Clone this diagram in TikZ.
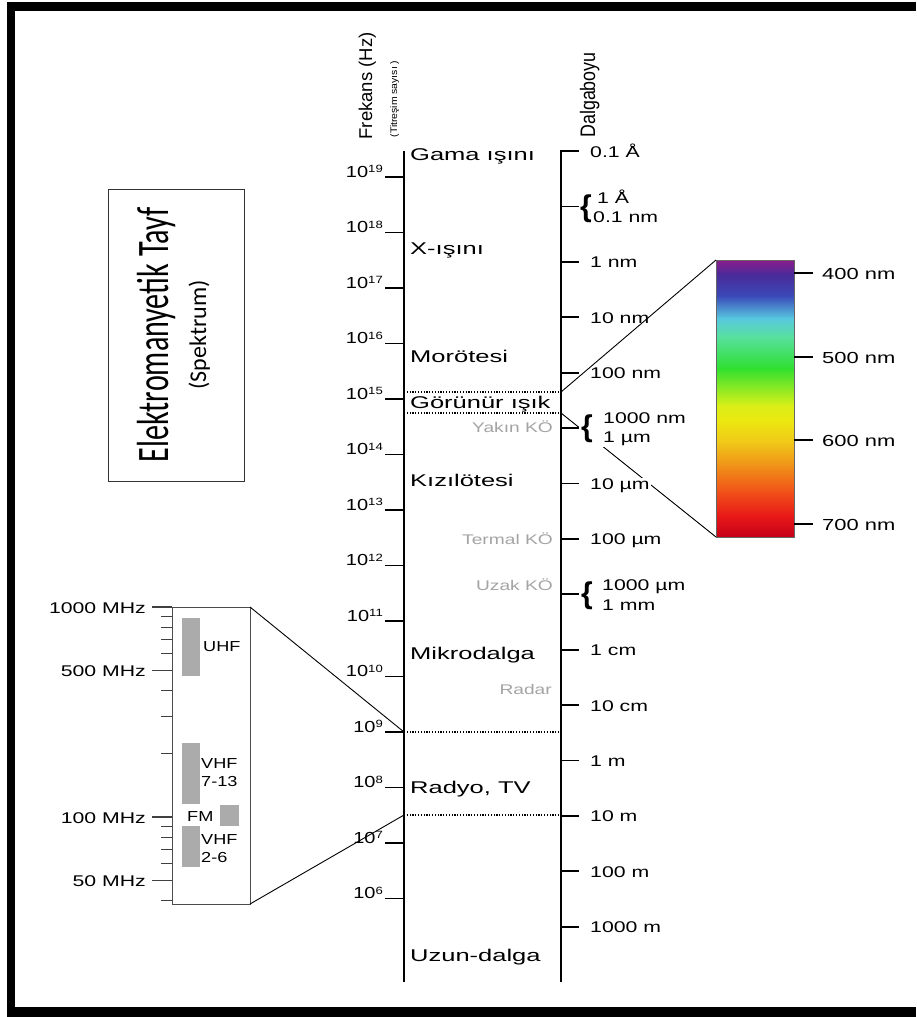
\documentclass[tikz,border=0pt]{standalone}
\usepackage{fontspec}
\setmainfont{Liberation Sans}
\newfontfamily\fCat[FakeStretch=1.5]{Liberation Sans}
\newfontfamily\fLab[FakeStretch=1.37]{Liberation Sans}
\newfontfamily\fPow[FakeStretch=1.25]{Liberation Sans}
\newfontfamily\fHead{Liberation Sans}
\newfontfamily\fDal[FakeStretch=0.85]{Liberation Sans}
\newfontfamily\fTit[FakeStretch=1.1]{Liberation Sans}
\newfontfamily\fBig[FakeStretch=0.67]{Carlito}
\newfontfamily\fSpk{Carlito}
\definecolor{gtxt}{HTML}{A4A4A4}
\definecolor{barg}{HTML}{ABABAB}
\definecolor{s0}{HTML}{8C1C8C}
\definecolor{s1}{HTML}{4A2A98}
\definecolor{s2}{HTML}{3A4AB8}
\definecolor{s3}{HTML}{58C8E0}
\definecolor{s4}{HTML}{58E0A0}
\definecolor{s5}{HTML}{30E030}
\definecolor{s6}{HTML}{D8F018}
\definecolor{s7}{HTML}{ECE810}
\definecolor{s8}{HTML}{F0C818}
\definecolor{s9}{HTML}{F09018}
\definecolor{s10}{HTML}{F05018}
\definecolor{s11}{HTML}{E81818}
\definecolor{s12}{HTML}{C40018}
\tikzset{
  axisline/.style={line width=2pt, black},
  tck/.style={line width=1.8pt, black},
  rtck/.style={line width=1.3pt, black!75},
  dotline/.style={line width=1.1pt, dash pattern=on 1.2pt off 1.6pt},
  zoomline/.style={line width=0.9pt, black},
  cat/.style={anchor=base west, inner sep=0pt, font={\fCat\fontsize{17}{17}\selectfont}},
  pw/.style={anchor=base east, inner sep=0pt, font={\fPow\fontsize{16}{16}\selectfont}},
  wl/.style={anchor=base west, inner sep=1pt, fill=white, font={\fLab\fontsize{15.5}{15.5}\selectfont}},
  wlb/.style={anchor=base west, inner sep=0pt, font={\fLab\fontsize{15.5}{15.5}\selectfont}},
  brc/.style={inner sep=0pt, font={\bfseries\fontsize{30}{30}\selectfont}},
  gry/.style={anchor=base east, inner sep=0pt, text=gtxt, font={\fLab\fontsize{14}{14}\selectfont}},
  mhz/.style={anchor=base east, inner sep=0pt, font={\fLab\fontsize{15.5}{15.5}\selectfont}},
  band/.style={anchor=base west, inner sep=0pt, font={\fPow\fontsize{14.5}{14.5}\selectfont}},
  nml/.style={anchor=base west, inner sep=0pt, font={\fLab\fontsize{16}{16}\selectfont}},
  bar/.style={fill=barg, draw=none},
}
\begin{document}
\begin{tikzpicture}[x=1pt,y=-1pt]
\useasboundingbox (0,0) rectangle (916,1017);
\fill[white] (0,0) rectangle (916,1017);
% frame
\fill[black] (7,2) rectangle (916,11);
\fill[black] (7,2) rectangle (15,1017);
\fill[black] (7,1007) rectangle (916,1017);

% title box
\draw[line width=1pt, black!80] (108,189) rectangle (244,481);
\node[rotate=90, anchor=base, inner sep=0pt, font={\fBig\fontsize{45}{45}\selectfont}] (title) at (168,335) {Elektromanyetik Tayf};
\node[rotate=90, anchor=base, inner sep=0pt, font={\fSpk\fontsize{24}{24}\selectfont}] (subtitle) at (206,335) {(Spektrum)};

% headers
\node[rotate=90, anchor=base, inner sep=0pt, font={\fHead\fontsize{18.5}{18.5}\selectfont}] (hf) at (372,86) {Frekans (Hz)};
\node[rotate=90, anchor=base, inner sep=0pt, font={\fTit\fontsize{9.5}{9.5}\selectfont}] (hf2) at (397,99) {(Titreşim sayısı )};
\node[rotate=90, anchor=base, inner sep=0pt, font={\fDal\fontsize{21}{21}\selectfont}] (hw) at (595,95) {Dalgaboyu};

% axes
\coordinate (fatop) at (404,151);
\coordinate (fabot) at (404,982);
\coordinate (watop) at (561,151);
\coordinate (wabot) at (561,982);
\draw[axisline] (fatop) -- (fabot);
\draw[axisline] (watop) -- (wabot);

% frequency ticks
\foreach \n [count=\i from 0] in {19,18,...,6} {
  \pgfmathsetmacro\yy{177+\i*55.5}
  \draw[tck] (385,\yy) -- (404,\yy);
  \node[pw] (p\n) at (383,\yy) {10\raisebox{4.5pt}{\fontsize{10.5}{10.5}\selectfont\n}};
}

% wavelength ticks
\foreach \k in {0,...,14} {
  \pgfmathsetmacro\yy{151+\k*55.4}
  \draw[tck] (560,\yy) -- (579,\yy);
}

% dotted separators
\draw[dotline] (404,392) -- (561,392);
\draw[dotline] (404,413) -- (561,413);
\draw[dotline] (404,732) -- (561,732);
\draw[dotline] (404,815) -- (561,815);

% spectrum bar
\coordinate (st) at (716,260);
\coordinate (sb) at (716,537);
\foreach \ya/\yb/\ca/\cb in {260/274/s0/s1, 274/296/s1/s2, 296/318/s2/s3, 318/336/s3/s4, 336/368/s4/s5, 368/405/s5/s6, 405/420/s6/s7, 420/442/s7/s8, 442/466/s8/s9, 466/492/s9/s10, 492/516/s10/s11, 516/537/s11/s12} {
  \shade[top color=\ca, bottom color=\cb] (716,\ya) rectangle (794,\yb+0.6);
}
\draw[line width=0.6pt, black!60] (716,260) rectangle (794,537);
\foreach \yy/\t in {273/400 nm, 357/500 nm, 440/600 nm, 524/700 nm} {
  \draw[tck] (794,\yy) -- (813,\yy);
  \node[nml] (nm\yy) at (822,\yy+6) {\t};
}

% radio box
\coordinate (rt) at (250,607);
\coordinate (rb) at (250,904);
\coordinate (f9) at (404,732);
\coordinate (f7) at (404,815);
\draw[line width=1pt, black!70] (172,607) rectangle (250,904);
\foreach \f in {900,800,700,600,400,300,200,90,80,70,60,40} {
  \pgfmathsetmacro\yy{607+210*log10(1000/\f)}
  \draw[rtck] (161,\yy) -- (172,\yy);
}
\foreach \f/\t in {1000/1000 MHz, 500/500 MHz, 100/100 MHz, 50/50 MHz} {
  \pgfmathsetmacro\yy{607+210*log10(1000/\f)}
  \draw[rtck] (152,\yy) -- (172,\yy);
  \node[mhz] (m\f) at (146,\yy+6.5) {\t};
}
\fill[bar] (182,618) rectangle (200,676);
\fill[bar] (182,743) rectangle (200,804);
\fill[bar] (220,805) rectangle (239,826);
\fill[bar] (182,826) rectangle (200,867);
\node[band] (uhf) at (203,651) {UHF};
\node[band] (vhfa) at (201,768) {VHF};
\node[band] (vhfb) at (201,786) {7-13};
\node[band] (fm) at (187,821) {FM};
\node[band] (vhfc) at (201,844) {VHF};
\node[band] (vhfd) at (201,862) {2-6};

% zoom lines (under labels)
\draw[zoomline] (rt) -- (f9);
\draw[zoomline] (rb) -- (f7);
\coordinate (vt) at (561,392);
\coordinate (vb) at (561,413);
\draw[zoomline] (vb) -- (sb);
\fill[white] (579,412) rectangle (650,446.5);

% wavelength labels
\foreach \k/\t in {0/0.1 Å, 2/1 nm, 3/10 nm, 4/100 nm, 6/10 µm, 7/100 µm, 9/1 cm, 10/10 cm, 11/1 m, 12/10 m, 13/100 m, 14/1000 m} {
  \pgfmathsetmacro\yy{151+\k*55.4}
  \node[wl] (w\k) at (589,\yy+6) {\t};
}
\node[brc] (b1) at (586,209) {\{};
\node[wlb] (w1a) at (597,203) {1 Å};
\node[wlb] (w1b) at (593,222) {0.1 nm};
\node[brc] (b5) at (587,429) {\{};
\node[wlb] (w5a) at (603,423) {1000 nm};
\node[wlb] (w5b) at (603,442) {1 µm};
\node[brc] (b8) at (587,596) {\{};
\node[wlb] (w8a) at (602,590) {1000 µm};
\node[wlb] (w8b) at (602,610) {1 mm};

% zoom line (over labels)
\draw[zoomline] (vt) -- (st);

% category labels
\node[cat] (c1) at (410,160) {Gama ışını};
\node[cat] (c2) at (410,254) {X-ışını};
\node[cat] (c3) at (410,362) {Morötesi};
\node[cat] (c4) at (410,408) {Görünür ışık};
\node[cat] (c5) at (410,486) {Kızılötesi};
\node[cat] (c6) at (410,659) {Mikrodalga};
\node[cat] (c7) at (410,793) {Radyo, TV};
\node[cat] (c8) at (410,961) {Uzun-dalga};

% gray sub-labels
\node[gry] (g1) at (553,432) {Yakın KÖ};
\node[gry] (g2) at (553,544) {Termal KÖ};
\node[gry] (g3) at (553,590) {Uzak KÖ};
\node[gry] (g4) at (552,694) {Radar};
\end{tikzpicture}
\end{document}
